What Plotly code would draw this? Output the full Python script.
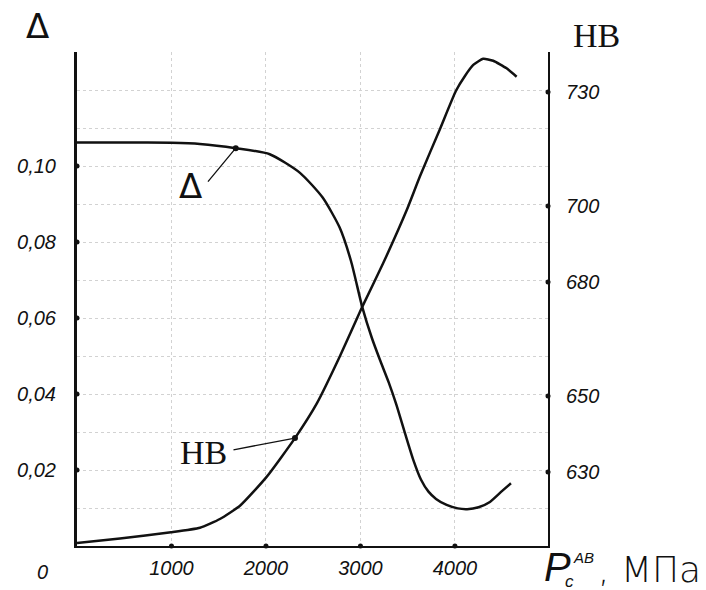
import plotly.graph_objects as go

# ---------------- data ----------------
pressure_delta = [0, 500, 1000, 1300, 1680, 2040, 2360, 2600, 2780, 2900, 3020, 3120, 3206,
                  3300, 3380, 3471, 3560, 3640, 3720, 3800, 3912, 4030, 4130, 4250, 4370,
                  4500, 4593]
delta_values = [0.1062, 0.1062, 0.1061, 0.1058, 0.1047, 0.1031, 0.0982, 0.0917, 0.0838, 0.0750,
                0.0628, 0.0548, 0.0490, 0.0430, 0.0372, 0.0297, 0.0226, 0.0175, 0.0143, 0.0124,
                0.0108, 0.0099, 0.0097, 0.0102, 0.0116, 0.0145, 0.0165]

pressure_hb = [0, 455, 995, 1302, 1513, 1725, 2007, 2307, 2540, 2780, 3020, 3240, 3490,
               3630, 3841, 4011, 4106, 4194, 4299, 4405, 4547, 4653]
hb_values = [611.3, 612.5, 614.1, 615.3, 617.6, 621.1, 628.7, 638.9, 648.1, 660.3, 673.5,
             684.9, 698.9, 707.8, 720.2, 730.3, 734.2, 737.1, 738.7, 738.2, 736.2, 734.0]

delta_marker_index = 4     # point x=1680 where the "Δ" leader touches
hb_marker_index = 7        # point x=2307 where the "HB" leader touches

x_ticks = [1000, 2000, 3000, 4000]
x_tick_labels = ["1000", "2000", "3000", "4000"]
delta_grid = [0.01, 0.02, 0.03, 0.04, 0.05, 0.06, 0.07, 0.08, 0.09, 0.10, 0.11, 0.12, 0.13]
delta_grid_labels = ["", "0,02", "", "0,04", "", "0,06", "", "0,08", "", "0,10", "", "", ""]
delta_ticks = [0.02, 0.04, 0.06, 0.08, 0.10]
hb_ticks = [630, 650, 680, 700, 730]
hb_tick_labels = ["630", "650", "680", "700", "730"]

# ---------------- layout constants ----------------
W, H = 706, 590
L, R, T, B = 77, 158, 52, 44
X_MAX = 4985
D_RANGE = [0, 0.13]
HB_RANGE = [610.5, 740.5]
PW, PH = W - L - R, H - T - B


def px(xp):
    return (xp - L) / PW


def py(yp):
    return (H - B - yp) / PH


ink = "#111111"
tick_font = dict(family="Liberation Sans", size=20, color=ink, style="italic")

fig = go.Figure()

fig.add_trace(go.Scatter(x=pressure_delta, y=delta_values, mode="lines",
                         line=dict(color=ink, width=2.5, shape="spline", smoothing=0.6),
                         hoverinfo="skip", showlegend=False))
fig.add_trace(go.Scatter(x=pressure_hb, y=hb_values, mode="lines", yaxis="y2",
                         line=dict(color=ink, width=2.5, shape="spline", smoothing=0.5),
                         hoverinfo="skip", showlegend=False))

# dots where the leader lines meet the curves
fig.add_trace(go.Scatter(x=[pressure_delta[delta_marker_index]], y=[delta_values[delta_marker_index]],
                         mode="markers", marker=dict(color=ink, size=6), showlegend=False))
fig.add_trace(go.Scatter(x=[pressure_hb[hb_marker_index]], y=[hb_values[hb_marker_index]], yaxis="y2",
                         mode="markers", marker=dict(color=ink, size=6), showlegend=False))

# tick dots on the axes
fig.add_trace(go.Scatter(x=[0] * len(delta_ticks), y=delta_ticks, mode="markers",
                         marker=dict(color=ink, size=5), cliponaxis=False, showlegend=False))
fig.add_trace(go.Scatter(x=x_ticks, y=[0] * len(x_ticks), mode="markers",
                         marker=dict(color=ink, size=5), cliponaxis=False, showlegend=False))
fig.add_trace(go.Scatter(x=[X_MAX] * len(hb_ticks), y=hb_ticks, yaxis="y2", mode="markers",
                         marker=dict(color=ink, size=5), cliponaxis=False, showlegend=False))

grid = dict(showgrid=True, gridcolor="#d2d2d2", gridwidth=1, griddash="dot")

fig.update_layout(
    width=W, height=H,
    margin=dict(l=L, r=R, t=T, b=B, pad=0),
    paper_bgcolor="white", plot_bgcolor="white",
    showlegend=False,
    xaxis=dict(range=[0, X_MAX], tickmode="array", tickvals=x_ticks, ticktext=x_tick_labels,
               tickfont=tick_font, ticks="", ticklabelstandoff=3, automargin=False,
               showline=True, linecolor=ink, linewidth=2, zeroline=False, fixedrange=True, **grid),
    yaxis=dict(range=D_RANGE, tickmode="array", tickvals=delta_grid, ticktext=delta_grid_labels,
               tickfont=tick_font, ticks="", ticklabelstandoff=14, automargin=False,
               showline=True, linecolor=ink, linewidth=3, zeroline=False, fixedrange=True, **grid),
    yaxis2=dict(range=HB_RANGE, overlaying="y", side="right", anchor="x",
                tickmode="array", tickvals=hb_ticks, ticktext=hb_tick_labels,
                tickfont=tick_font, ticks="", ticklabelstandoff=12, automargin=False,
                showline=True, linecolor=ink, linewidth=2, showgrid=False, zeroline=False,
                fixedrange=True),
)

serif = "Liberation Serif"


def label(text, xp, yp, font, xanchor="center"):
    return dict(text=text, x=px(xp), y=py(yp), xref="paper", yref="paper", showarrow=False,
                xanchor=xanchor, yanchor="middle", font=font)


ann = []
# axis titles
ann.append(label("Δ", 37, 26, dict(family="DejaVu Sans", size=34, color=ink)))
ann.append(label("HB", 596, 36, dict(family=serif, size=34, color=ink)))
# origin label
ann.append(label("0", 42, 572, tick_font))
# curve labels with leaders
ann.append(dict(text="", x=pressure_delta[delta_marker_index], y=delta_values[delta_marker_index],
                xref="x", yref="y", showarrow=True, arrowhead=0, arrowwidth=1.3, arrowcolor=ink,
                ax=-29, ay=35, standoff=0))
ann.append(label("Δ", 190, 186, dict(family="DejaVu Sans", size=34, color=ink)))
ann.append(dict(text="", x=pressure_hb[hb_marker_index], y=hb_values[hb_marker_index],
                xref="x", yref="y2", showarrow=True, arrowhead=0, arrowwidth=1.3, arrowcolor=ink,
                ax=-63, ay=12, standoff=0))
ann.append(label("HB", 203, 452, dict(family=serif, size=34, color=ink)))
# x axis title  P_c^AB, МПа
ann.append(label("P", 557, 567, dict(family="Liberation Sans", size=40, color=ink, style="italic")))
ann.append(label("c", 569, 581, dict(family="Liberation Sans", size=17, color=ink, style="italic")))
ann.append(label("AB", 583, 557, dict(family="Liberation Sans", size=15, color=ink, style="italic")))
ann.append(label(", МПа", 596, 569, dict(family="DejaVu Sans", size=36, color=ink, weight=300),
                 xanchor="left"))
fig.update_layout(annotations=ann)

fig.write_html("out.html")
